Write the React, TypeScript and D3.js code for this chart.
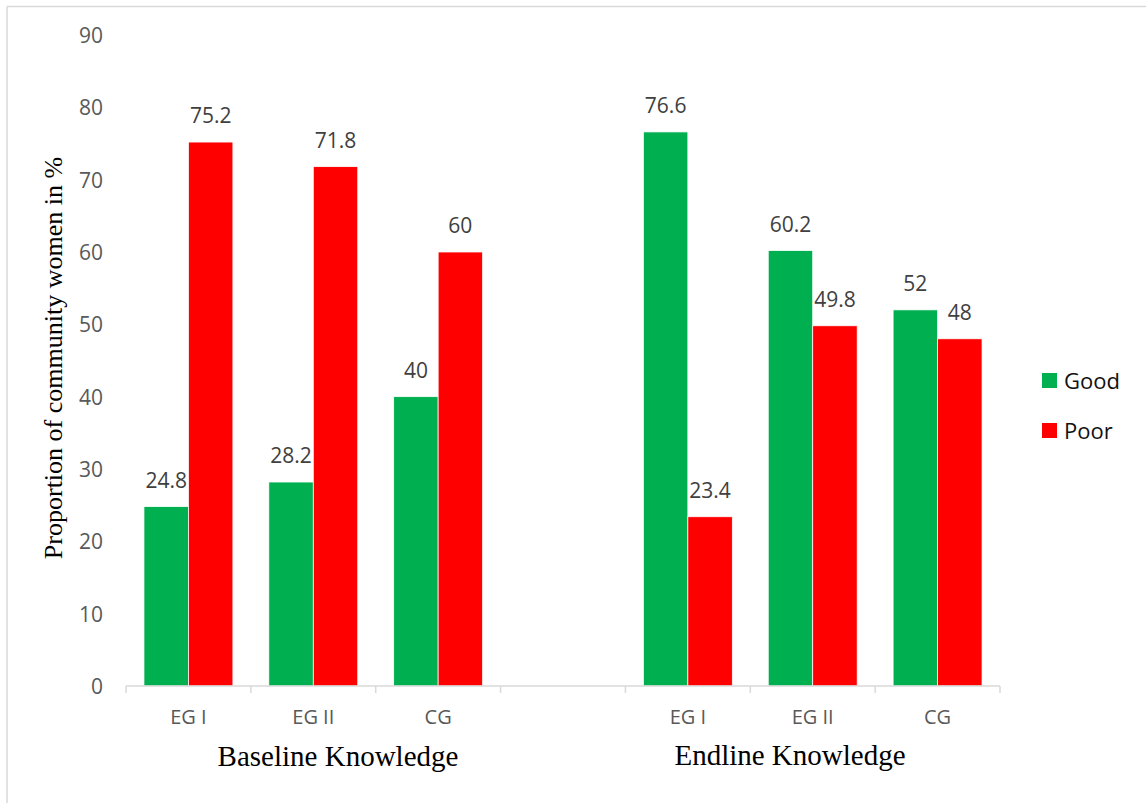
import React from "react";
import * as d3 from "d3";

// Knowledge level of community women, baseline vs endline, by study group
const categories = ["EG I", "EG II", "CG", "", "EG I", "EG II", "CG"];
const slotIds = ["b1", "b2", "b3", "gap", "e1", "e2", "e3"];
const seriesNames = ["Good", "Poor"];
const goodValues = [24.8, 28.2, 40, null, 76.6, 60.2, 52];
const poorValues = [75.2, 71.8, 60, null, 23.4, 49.8, 48];
const yTicks = [0, 10, 20, 30, 40, 50, 60, 70, 80, 90];
const groupTitles = ["Baseline Knowledge", "Endline Knowledge"];
const yTitle = "Proportion of community women in %";

const colors: Record<string, string> = { Good: "#00B050", Poor: "#FF0000" };

const W = 1146;
const H = 803;
const plot = { left: 126, right: 1000, top: 35, bottom: 686 };

export default function App() {
  const x0 = d3.scaleBand<string>().domain(slotIds).range([plot.left, plot.right]).padding(0);
  const x1 = d3
    .scaleBand<string>()
    .domain(seriesNames)
    .range([0, x0.bandwidth()])
    .paddingInner(0)
    .paddingOuter(0.404);
  const y = d3.scaleLinear().domain([0, 90]).range([plot.bottom, plot.top]);

  const valuesBySeries: Record<string, (number | null)[]> = {
    Good: goodValues,
    Poor: poorValues,
  };

  const numFont = "'Open Sans', 'Noto Sans', sans-serif";
  const serif = "'Liberation Serif', 'Times New Roman', serif";

  const boundaries = slotIds.map((id) => x0(id) as number).concat([plot.right]);

  return (
    <svg
      width={W}
      height={H}
      style={{ position: "absolute", left: 0, top: 0, background: "#fff" }}
    >
      {/* chart area frame */}
      <line x1={7} x2={W} y1={6.5} y2={6.5} stroke="#d9d9d9" strokeWidth={1.5} />
      <line x1={7} x2={7} y1={6.5} y2={H} stroke="#d9d9d9" strokeWidth={1.5} />

      {/* y tick labels */}
      {yTicks.map((t) => (
        <text
          key={t}
          x={103}
          y={y(t)}
          textAnchor="end"
          dominantBaseline="central"
          fontFamily={numFont}
          fontSize={21}
          fill="#595959"
        >
          {t}
        </text>
      ))}

      {/* bars */}
      {slotIds.map((id, i) =>
        seriesNames.map((s) => {
          const v = valuesBySeries[s][i];
          if (v == null) return null;
          const bx = (x0(id) as number) + (x1(s) as number);
          return (
            <rect
              key={id + s}
              x={bx}
              y={y(v)}
              width={x1.bandwidth()}
              height={y(0) - y(v)}
              fill={colors[s]}
              stroke="#fff"
              strokeWidth={0.75}
            />
          );
        })
      )}

      {/* value labels */}
      {slotIds.map((id, i) =>
        seriesNames.map((s) => {
          const v = valuesBySeries[s][i];
          if (v == null) return null;
          const cx = (x0(id) as number) + (x1(s) as number) + x1.bandwidth() / 2;
          return (
            <text
              key={"l" + id + s}
              x={cx}
              y={y(v) - 19}
              textAnchor="middle"
              fontFamily={numFont}
              fontSize={21}
              fill="#404040"
            >
              {v}
            </text>
          );
        })
      )}

      {/* x axis */}
      <line x1={plot.left} x2={plot.right} y1={plot.bottom} y2={plot.bottom} stroke="#d9d9d9" strokeWidth={1.5} />
      {boundaries.map((bx, i) => (
        <line key={"t" + i} x1={bx} x2={bx} y1={plot.bottom} y2={plot.bottom + 7} stroke="#d9d9d9" strokeWidth={1.5} />
      ))}
      {slotIds.map((id, i) => (
        <text
          key={"c" + id}
          x={(x0(id) as number) + x0.bandwidth() / 2}
          y={724}
          textAnchor="middle"
          fontFamily={numFont}
          fontSize={20}
          fill="#595959"
        >
          {categories[i]}
        </text>
      ))}

      {/* group titles */}
      <text x={338} y={766} textAnchor="middle" fontFamily={serif} fontSize={29} fill="#000">
        {groupTitles[0]}
      </text>
      <text x={790} y={765} textAnchor="middle" fontFamily={serif} fontSize={29} fill="#000">
        {groupTitles[1]}
      </text>

      {/* y axis title */}
      <text
        transform="translate(62,358) rotate(-90)"
        textAnchor="middle"
        fontFamily={serif}
        fontSize={26}
        fill="#000"
      >
        {yTitle}
      </text>

      {/* legend */}
      {seriesNames.map((s, i) => (
        <g key={"lg" + s} transform={`translate(1042,${373 + i * 50})`}>
          <rect x={0} y={0} width={15} height={15} fill={colors[s]} />
          <text x={22} y={16} fontFamily={numFont} fontSize={22} fill="#111">
            {s}
          </text>
        </g>
      ))}
    </svg>
  );
}
